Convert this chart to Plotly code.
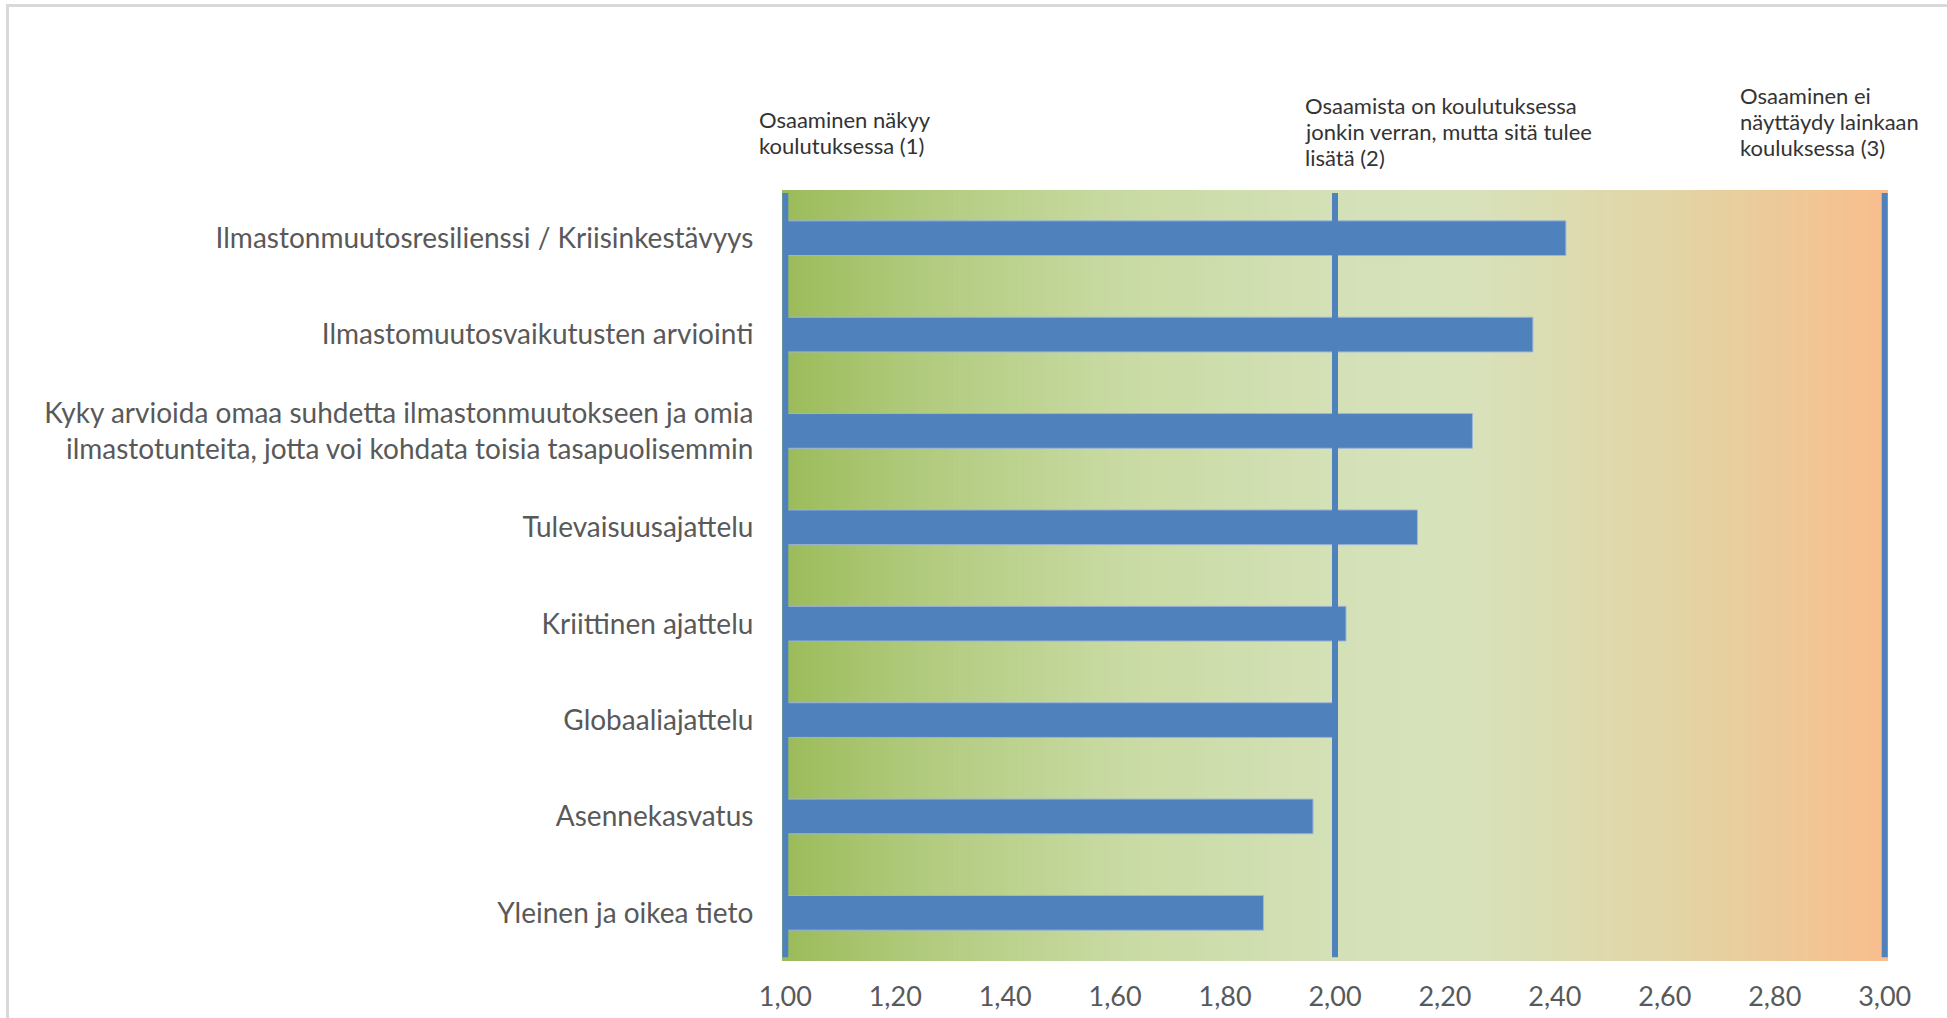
import plotly.graph_objects as go

# ---- data ----
categories = [
    "Ilmastonmuutosresilienssi / Kriisinkestävyys",
    "Ilmastomuutosvaikutusten arviointi",
    "Kyky arvioida omaa suhdetta ilmastonmuutokseen ja omia<br>ilmastotunteita, jotta voi kohdata toisia tasapuolisemmin",
    "Tulevaisuusajattelu",
    "Kriittinen ajattelu",
    "Globaaliajattelu",
    "Asennekasvatus",
    "Yleinen ja oikea tieto",
]
values = [2.42, 2.36, 2.25, 2.15, 2.02, 2.00, 1.96, 1.87]
scale_base = 1.0
reference_levels = [1.0, 2.0, 3.0]
level_labels = [
    ["Osaaminen näkyy", "koulutuksessa (1)"],
    ["Osaamista on koulutuksessa", "jonkin verran, mutta sitä tulee", "lisätä (2)"],
    ["Osaaminen ei", "näyttäydy lainkaan", "kouluksessa (3)"],
]
tick_values = [1.0, 1.2, 1.4, 1.6, 1.8, 2.0, 2.2, 2.4, 2.6, 2.8, 3.0]

# ---- styling ----
W, H = 1947, 1018
L, R, T, B = 782, 59, 190, 57
BLUE = "#4F81BD"
FONT = "Lato"

fig = go.Figure()
fig.add_trace(go.Bar(
    y=categories,
    x=[v - scale_base for v in values],
    base=scale_base,
    orientation="h",
    marker=dict(color=BLUE, line=dict(color="#9DB5D9", width=1)),
    hoverinfo="skip",
))

# gradient background (green -> light green -> orange)
stops = [
    (0.00, (155, 187, 89)),
    (0.12, (176, 202, 124)),
    (0.30, (200, 218, 162)),
    (0.50, (212, 225, 183)),
    (0.62, (215, 226, 187)),
    (0.80, (226, 213, 166)),
    (1.00, (248, 190, 140)),
]

def interp(t):
    for (t0, c0), (t1, c1) in zip(stops[:-1], stops[1:]):
        if t0 <= t <= t1:
            f = (t - t0) / (t1 - t0) if t1 > t0 else 0
            return tuple(round(a + (b - a) * f) for a, b in zip(c0, c1))
    return stops[-1][1]

x_lo, x_hi = 0.994, 3.006
n = 220
shapes = []
for i in range(n):
    a = x_lo + (x_hi - x_lo) * i / n
    b = x_lo + (x_hi - x_lo) * (i + 1) / n
    c = interp((i + 0.5) / n)
    shapes.append(dict(type="rect", xref="x", yref="paper", x0=a, x1=b + 0.002,
                       y0=0, y1=1, fillcolor="rgb(%d,%d,%d)" % c,
                       line=dict(width=0), layer="below"))

for lv in reference_levels:
    shapes.append(dict(type="line", xref="x", yref="paper", x0=lv, x1=lv,
                       y0=0.005, y1=0.996, line=dict(color=BLUE, width=6),
                       layer="above"))

# pixel helpers (image pixel coords -> paper coords)
pw, ph = W - L - R, H - T - B
def px(xp):
    return (xp - L) / pw
def py(yp):
    return (H - B - yp) / ph

# outer light-gray frame
shapes.append(dict(type="rect", xref="paper", yref="paper",
                   x0=px(7.5), x1=px(1990), y0=py(5.5), y1=py(1060),
                   line=dict(color="#D9D9D9", width=3), fillcolor="rgba(0,0,0,0)",
                   layer="below"))

annotations = []
anno_pos = [(757, 119), (1303, 105.5), (1738, 95.6)]
line_pitch = 26
for lines, (ax, ay) in zip(level_labels, anno_pos):
    for k, line in enumerate(lines):
        annotations.append(dict(text=line, xref="paper", yref="paper",
                                x=px(ax), y=py(ay + k * line_pitch),
                                xanchor="left", yanchor="middle",
                                align="left", showarrow=False,
                                font=dict(family=FONT, size=22, color="#333333")))

fig.update_layout(
    width=W, height=H,
    margin=dict(l=L, r=R, t=T, b=B, pad=0, autoexpand=False),
    paper_bgcolor="white", plot_bgcolor="white",
    separators=", ",
    showlegend=False,
    bargap=0.64,
    shapes=shapes,
    annotations=annotations,
    font=dict(family=FONT, color="#595959"),
)
fig.update_xaxes(range=[x_lo, x_hi], tickvals=tick_values, tickformat=".2f",
                 automargin=False,
                 showgrid=False, zeroline=False, showline=False,
                 ticks="outside", ticklen=12, tickcolor="rgba(0,0,0,0)",
                 tickfont=dict(family=FONT, size=27, color="#595959"))
fig.update_yaxes(autorange="reversed", automargin=False,
                 showgrid=False, zeroline=False,
                 showline=False, ticks="outside", ticklen=22,
                 tickcolor="rgba(0,0,0,0)",
                 tickfont=dict(family=FONT, size=28, color="#595959"))

fig.write_html(
    "out.html",
    config={"displayModeBar": False},
    post_script="document.body.style.margin='0px';document.body.style.overflow='hidden';",
)
